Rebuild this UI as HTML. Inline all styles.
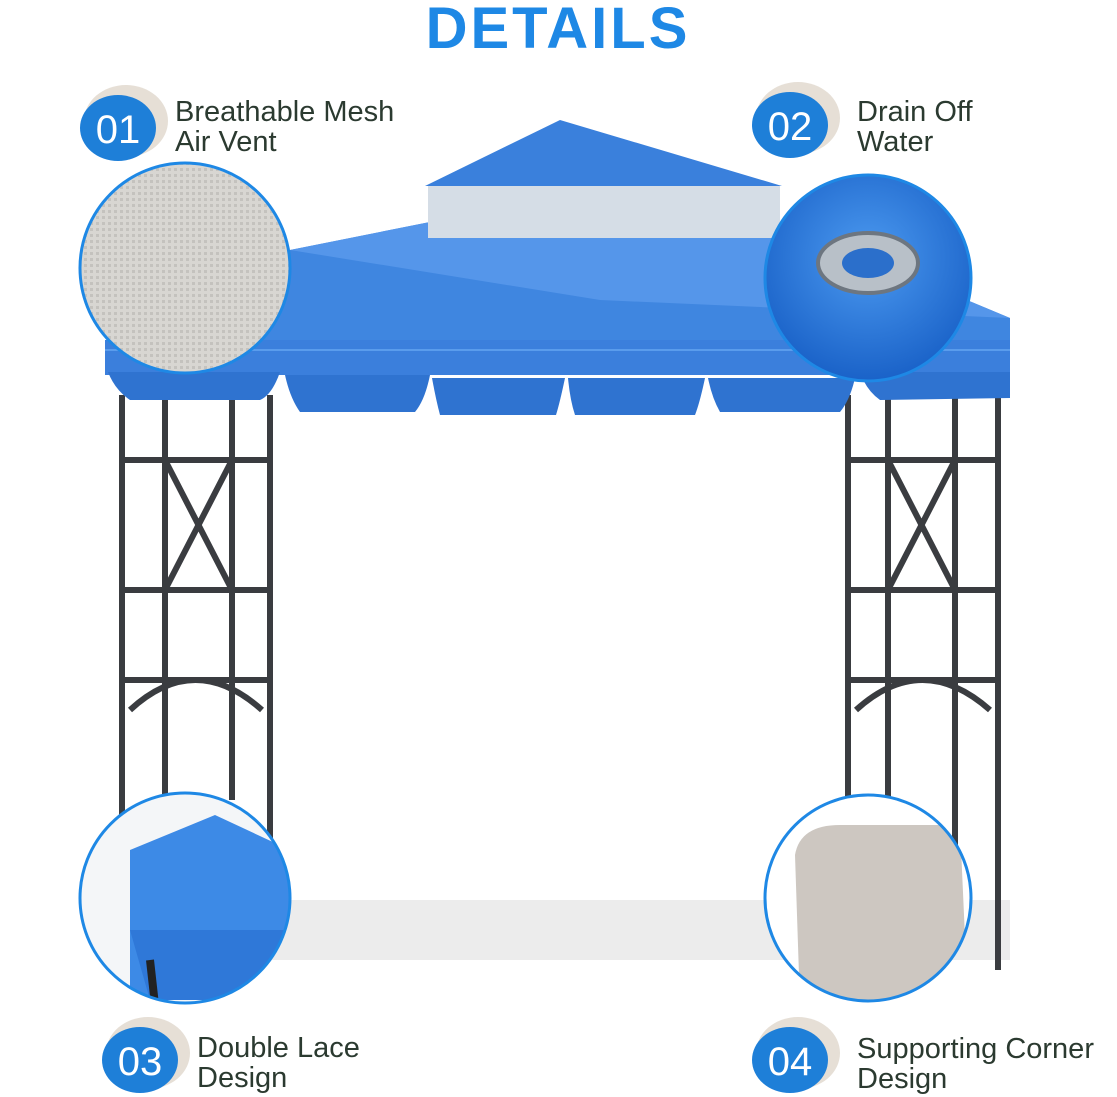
<!DOCTYPE html>
<html><head><meta charset="utf-8"><style>
html,body{margin:0;padding:0;background:#fff;width:1117px;height:1097px;overflow:hidden}
svg{display:block}
text{font-family:"Liberation Sans",sans-serif}
</style></head><body>
<svg width="1117" height="1097" viewBox="0 0 1117 1097" xmlns="http://www.w3.org/2000/svg">
<defs>
<pattern id="mesh" width="6" height="6" patternUnits="userSpaceOnUse">
<rect width="6" height="6" fill="#d8d6d2"/><rect width="3" height="3" fill="#c4c2be"/>
</pattern>
<radialGradient id="bl" cx="50%" cy="40%" r="60%"><stop offset="0" stop-color="#4c9af0"/><stop offset="1" stop-color="#1a62c8"/></radialGradient>
<clipPath id="c3"><circle cx="185" cy="898" r="104"/></clipPath>
<clipPath id="c4"><circle cx="868" cy="898" r="102"/></clipPath>
</defs>
<text x="558" y="48" text-anchor="middle" font-size="58" font-weight="bold" letter-spacing="3" fill="#1e88e5">DETAILS</text>

<!-- floor shadow -->
<rect x="270" y="900" width="740" height="60" fill="#ececec"/>

<!-- legs -->
<g stroke="#3a3c40" stroke-width="6" fill="none">
<line x1="122" y1="395" x2="122" y2="900"/><line x1="165" y1="395" x2="165" y2="990"/>
<line x1="232" y1="395" x2="232" y2="800"/><line x1="270" y1="395" x2="270" y2="840"/>
<line x1="122" y1="460" x2="270" y2="460"/><line x1="122" y1="590" x2="270" y2="590"/>
<line x1="122" y1="680" x2="270" y2="680"/>
<line x1="165" y1="460" x2="232" y2="590"/><line x1="232" y1="460" x2="165" y2="590"/>
<path d="M130 710 Q195 650 262 710"/>
<line x1="848" y1="395" x2="848" y2="800"/><line x1="888" y1="395" x2="888" y2="840"/>
<line x1="955" y1="395" x2="955" y2="900"/><line x1="998" y1="395" x2="998" y2="970"/>
<line x1="848" y1="460" x2="998" y2="460"/><line x1="848" y1="590" x2="998" y2="590"/>
<line x1="848" y1="680" x2="998" y2="680"/>
<line x1="888" y1="460" x2="955" y2="590"/><line x1="955" y1="460" x2="888" y2="590"/>
<path d="M856 710 Q922 650 990 710"/>
</g>

<!-- roof -->
<polygon points="105,345 290,250 430,222 780,222 1010,318 1010,345" fill="#3f86e0"/>
<polygon points="290,250 430,222 780,222 1010,318 600,300" fill="#5596ea"/>
<rect x="428" y="186" width="352" height="52" fill="#d5dde6"/>
<polygon points="425,186 560,120 782,186" fill="#3a80dc"/>
<!-- valance -->
<rect x="105" y="340" width="905" height="35" fill="#3b7fdc"/>
<g fill="#2f73d0">
<path d="M108 372 L280 372 Q272 395 260 400 L130 400 Q115 390 108 372Z"/>
<path d="M285 375 L430 375 Q425 400 415 412 L300 412 Q290 398 285 375Z"/>
<path d="M432 378 L565 378 Q560 402 556 415 L440 415 Q436 400 432 378Z"/>
<path d="M568 378 L705 378 Q700 402 695 415 L575 415 Q570 400 568 378Z"/>
<path d="M708 378 L855 378 Q850 400 840 412 L720 412 Q712 398 708 378Z"/>
<path d="M860 372 L1010 372 L1010 398 L880 400 Q866 390 860 372Z"/>
</g>
<g stroke="#5a9cec" stroke-width="2" fill="none">
<path d="M105 350 L1010 350"/>
</g>

<!-- detail circles -->
<circle cx="185" cy="268" r="105" fill="url(#mesh)" stroke="#1e88e5" stroke-width="3"/>
<circle cx="868" cy="278" r="103" fill="url(#bl)" stroke="#1e88e5" stroke-width="3"/>
<ellipse cx="868" cy="263" rx="50" ry="30" fill="#b8c0c8" stroke="#6d7680" stroke-width="4"/>
<ellipse cx="868" cy="263" rx="26" ry="15" fill="#2b6fcb"/>
<circle cx="185" cy="898" r="105" fill="#fff"/>
<g clip-path="url(#c3)">
<rect x="80" y="790" width="210" height="220" fill="#f4f6f8"/>
<path d="M130 850 L215 815 L290 850 L290 1000 L130 1000 Z" fill="#3d8ae6"/>
<path d="M130 930 L290 930 L290 1000 L150 1000 Z" fill="#2f78d8"/>
<line x1="150" y1="960" x2="155" y2="1005" stroke="#222" stroke-width="8"/>
</g>
<circle cx="185" cy="898" r="105" fill="none" stroke="#1e88e5" stroke-width="3"/>
<circle cx="868" cy="898" r="103" fill="#fff"/>
<g clip-path="url(#c4)">
<path d="M795 855 Q800 825 840 825 L960 825 L968 1005 L800 1005 Z" fill="#cdc7c1"/>
</g>
<circle cx="868" cy="898" r="103" fill="none" stroke="#1e88e5" stroke-width="3"/>

<!-- badges -->
<g font-size="40" fill="#fff" text-anchor="middle">
<ellipse cx="126" cy="121" rx="42" ry="36" fill="#e6dfd6"/><ellipse cx="118" cy="128" rx="38" ry="33" fill="#1e7fd8"/><text x="118" y="143">01</text>
<ellipse cx="798" cy="118" rx="42" ry="36" fill="#e6dfd6"/><ellipse cx="790" cy="125" rx="38" ry="33" fill="#1e7fd8"/><text x="790" y="140">02</text>
<ellipse cx="148" cy="1053" rx="42" ry="36" fill="#e6dfd6"/><ellipse cx="140" cy="1060" rx="38" ry="33" fill="#1e7fd8"/><text x="140" y="1075">03</text>
<ellipse cx="798" cy="1053" rx="42" ry="36" fill="#e6dfd6"/><ellipse cx="790" cy="1060" rx="38" ry="33" fill="#1e7fd8"/><text x="790" y="1075">04</text>
</g>
<g font-size="29" fill="#2b3a30">
<text x="175" y="121">Breathable Mesh</text><text x="175" y="151">Air Vent</text>
<text x="857" y="121">Drain Off</text><text x="857" y="151">Water</text>
<text x="197" y="1057">Double Lace</text><text x="197" y="1087">Design</text>
<text x="857" y="1058">Supporting Corner</text><text x="857" y="1088">Design</text>
</g>
</svg>
</body></html>
